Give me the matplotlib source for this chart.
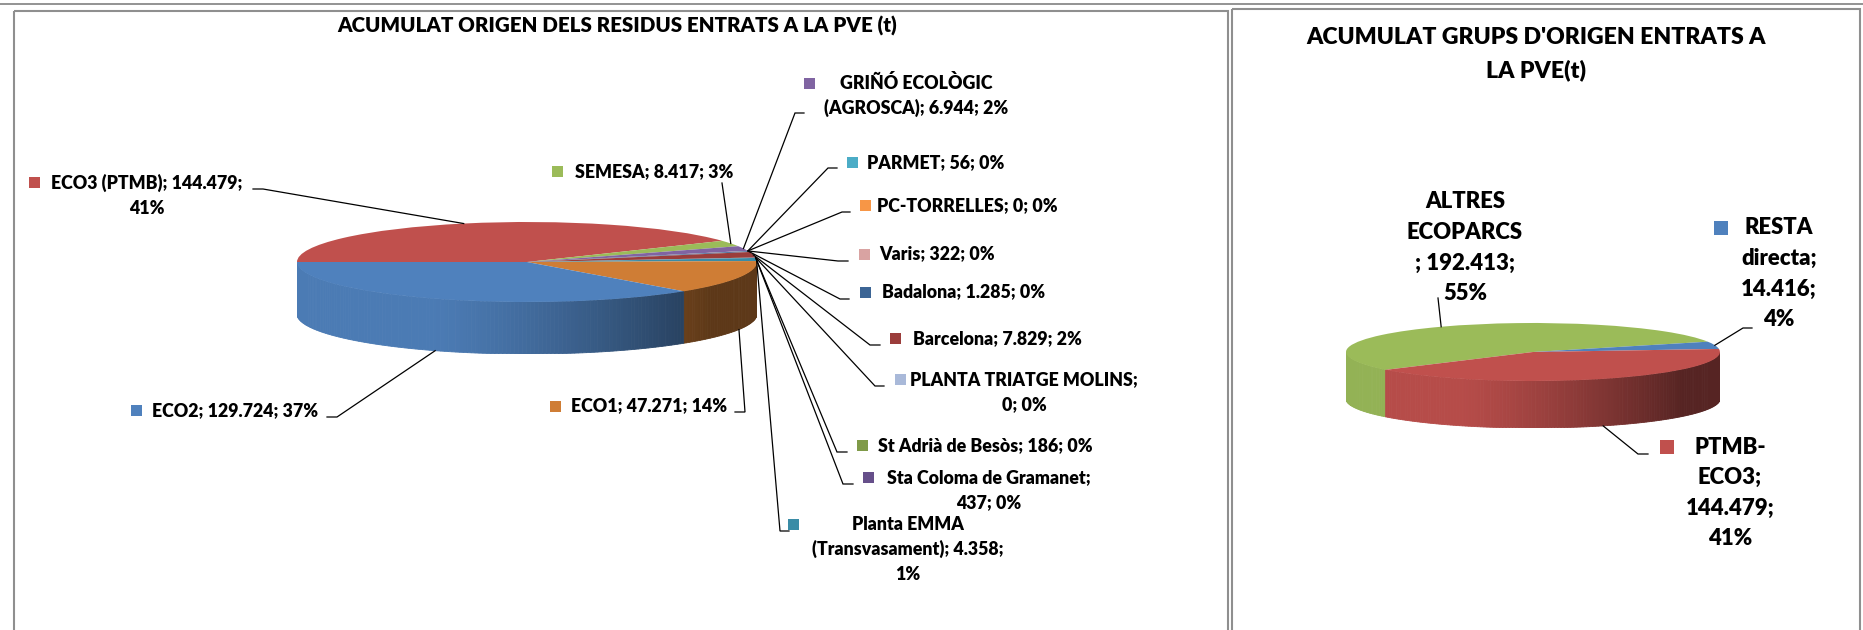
import re
import matplotlib
matplotlib.use('Agg')
import matplotlib.pyplot as plt
import numpy as np
from matplotlib.colors import to_rgb
from matplotlib.patches import Rectangle

W, H = 1863, 630
FONT = ['Lato', 'DejaVu Sans']
WEIGHT = 'heavy'

# ---- data: left chart (origin of waste entering the PVE, tonnes) ----
origin_names = ["ECO3 (PTMB)", "SEMESA", "GRIÑÓ ECOLÒGIC (AGROSCA)", "PARMET", "PC-TORRELLES",
                "Varis", "Badalona", "Barcelona", "PLANTA TRIATGE MOLINS", "St Adrià de Besòs",
                "Sta Coloma de Gramanet", "Planta EMMA (Transvasament)", "ECO1", "ECO2"]
origin_tonnes = [144479, 8417, 6944, 56, 0, 322, 1285, 7829, 0, 186, 437, 4358, 47271, 129724]
origin_colors = ["#C0504D", "#9BBB59", "#8064A2", "#4BACC6", "#F79646", "#D9A3A2",
                 "#3C6595", "#9B3D3B", "#A9B9D9", "#7F9A48", "#664F8A", "#3A8CA6",
                 "#CF7D35", "#4F81BD"]

# ---- data: right chart (origin groups) ----
group_names = ["ALTRES ECOPARCS ", "RESTA directa", "PTMB-ECO3"]
group_tonnes = [192413, 14416, 144479]
group_colors = ["#9BBB59", "#4F81BD", "#C0504D"]

# ---- layout (figure pixels, y down) ----
origin_lines = [(3, 1), None, (2, 3), None, None, None, None, None, (3, 2), None, (4, 2), (2, 2, 1), None, None]
origin_key = [(34, 182), (557, 171), (809.5, 83), (852.5, 162), (865.5, 205), (864.5, 254),
              (865.5, 292), (895.5, 338), (900.5, 379), (862.5, 445), (868.5, 477),
              (793.5, 524), (555, 406), (136, 410)]
origin_text = [(147, 183), (654, 172), (916, 83), (935.5, 163), (967, 206), (937, 254),
               (964, 292), (997, 339), (1024, 380), (985.5, 446), (988.5, 478),
               (908, 524), (649.5, 406), (235.5, 411)]
origin_leader = [(253, 263, 189), (722, 722, 183), (804, 795, 113), (837, 828, 168),
                 (850, 842, 212), (848, 838, 261), (849, 840, 299), (880, 870, 345),
                 (884, 875, 386), (847, 837, 452), (853, 843, 484), (789, 780, 531),
                 (735, 745, 412), (327, 337, 417)]

group_lines = [(1, 1, 2, 1), (1, 1, 1, 1), (1, 1, 1, 1)]
group_key = [None, (1721, 228), (1667, 447)]
group_text = [(1465, 202), (1779, 228), (1730, 447)]
group_leader = [(1438, 1438, 298), (1752, 1743, 328), (1648, 1638, 454)]


def pct_largest_remainder(vals):
    v = np.array(vals, float)
    raw = 100 * v / v.sum()
    base = np.floor(raw).astype(int)
    rest = 100 - base.sum()
    order = np.argsort(-(raw - base))
    base[order[:rest]] += 1
    return base


def label_lines(name, value, pct, split):
    text = f"{name}; {value:,}".replace(',', '.') + f"; {pct}%"
    tokens = [t for t in re.split(r' |(?<=-)', text) if t]
    if split is None:
        split = (len(tokens),)
    out, i = [], 0
    for n in split:
        s = ''
        for t in tokens[i:i + n]:
            s += t if t.endswith('-') else t + ' '
        out.append(s.strip())
        i += n
    return out


def side_shade(color, x):
    t = (x + 1) / 2
    s = np.clip((t - 0.3) / 0.6, 0, 1)
    f = 0.95 - 0.5 * s ** 1.3
    r, g, b = to_rgb(color)
    return (r * f, g * f, b * f)


fig = plt.figure(figsize=(W / 100, H / 100), dpi=100)
renderer = fig.canvas.get_renderer()


def text_width(s, size):
    t = fig.text(0, 0, s, fontsize=size, fontweight=WEIGHT, family=FONT)
    w = t.get_window_extent(renderer=renderer).width
    t.remove()
    return w


def fit(pairs):
    return np.mean([10 * px / text_width(s, 10) for s, px in pairs])


fs_left = fit([("SEMESA; 8.417; 3%", 162), ("PLANTA TRIATGE MOLINS;", 216),
               ("Sta Coloma de Gramanet;", 211), ("ECO2; 129.724; 37%", 167)])
fs_left_title = fit([("ACUMULAT ORIGEN DELS RESIDUS ENTRATS A LA PVE (t)", 561)])
fs_right_title = fit([("ACUMULAT GRUPS D'ORIGEN ENTRATS A", 460)])
fs_right = fit([("ECOPARCS", 108), ("144.479;", 90), ("directa;", 80)])

ov = fig.add_axes([0, 0, 1, 1])
ov.set_xlim(0, W)
ov.set_ylim(H, 0)
ov.axis('off')
ov.set_zorder(5)

# frames
ov.plot([0, W], [3.5, 3.5], color='#808080', lw=1.2)
ov.add_patch(Rectangle((14, 11), 1214, 700, fill=False, ec='#8f8f8f', lw=1.5))
ov.add_patch(Rectangle((1231.5, 9), 628.5, 700, fill=False, ec='#8f8f8f', lw=1.5))


def draw_pie(values, colors, cx, cy, rx, ry, depth, start):
    ax = fig.add_axes([(cx - rx) / W, (H - (cy + ry + depth)) / H, 2 * rx / W, (2 * ry + depth) / H])
    wedges, _ = ax.pie(values, colors=colors, startangle=start, counterclock=False,
                       wedgeprops=dict(linewidth=0))
    d = depth / ry
    ax.set_aspect('auto')
    ax.set_xlim(-1, 1)
    ax.set_ylim(-1 - d, 1)
    ax.axis('off')
    anchors = []
    for w, c in zip(wedges, colors):
        w.set_zorder(3)
        span = w.theta2 - w.theta1
        m = np.radians((w.theta1 + w.theta2) / 2)
        if np.sin(m) < 0:
            p = (np.cos(m), np.sin(m) - d)
        else:
            p = (np.cos(m), np.sin(m))
        px = ax.transData.transform(p)
        anchors.append((px[0], H - px[1]))
        if span < 1e-6:
            continue
        th = np.linspace(w.theta1, w.theta2, int(span) + 2)
        for a, b in zip(th[:-1], th[1:]):
            mm = np.radians((a + b) / 2)
            if np.sin(mm) > 0:
                continue
            ra, rb = np.radians(a), np.radians(b)
            xs = [np.cos(ra), np.cos(rb), np.cos(rb), np.cos(ra)]
            ys = [np.sin(ra), np.sin(rb), np.sin(rb) - d, np.sin(ra) - d]
            col = side_shade(c, np.cos(mm))
            ax.fill(xs, ys, color=col, ec=col, lw=0.6, zorder=1)
    return anchors


def draw_labels(names, values, colors, splits, keys, texts, leaders, anchors, fs, key_size, step):
    pcts = pct_largest_remainder(values)
    for i, name in enumerate(names):
        lines = label_lines(name, values[i], pcts[i], splits[i])
        cx, y0 = texts[i]
        for j, ln in enumerate(lines):
            ov.text(cx, y0 + j * step, ln, ha='center', va='center', fontsize=fs,
                    fontweight=WEIGHT, family=FONT, color='black')
        if keys[i] is not None:
            kx, ky = keys[i]
            ov.add_patch(Rectangle((kx - key_size / 2, ky - key_size / 2), key_size, key_size,
                                   color=colors[i], lw=0))
        x0, x1, y = leaders[i]
        ax_, ay_ = anchors[i]
        ov.plot([x0, x1, ax_], [y, y, ay_], color='black', lw=0.9, solid_joinstyle='miter')


left_anchors = draw_pie(origin_tonnes, origin_colors, 527, 262, 230, 40, 52, 180)
right_anchors = draw_pie(group_tonnes, group_colors, 1533, 352, 187, 29, 47, 218)

draw_labels(origin_names, origin_tonnes, origin_colors, origin_lines, origin_key, origin_text,
            origin_leader, left_anchors, fs_left, 11, 25)
draw_labels(group_names, group_tonnes, group_colors, group_lines, group_key, group_text,
            group_leader, right_anchors, fs_right, 14, 30.5)

ov.text(617, 26, "ACUMULAT ORIGEN DELS RESIDUS ENTRATS A LA PVE (t)", ha='center', va='center',
        fontsize=fs_left_title, fontweight=WEIGHT, family=FONT)
ov.text(1536, 37, "ACUMULAT GRUPS D'ORIGEN ENTRATS A", ha='center', va='center',
        fontsize=fs_right_title, fontweight=WEIGHT, family=FONT)
ov.text(1536, 70, "LA PVE(t)", ha='center', va='center',
        fontsize=fs_right_title, fontweight=WEIGHT, family=FONT)

fig.savefig('out.png', dpi=100, facecolor='white')
